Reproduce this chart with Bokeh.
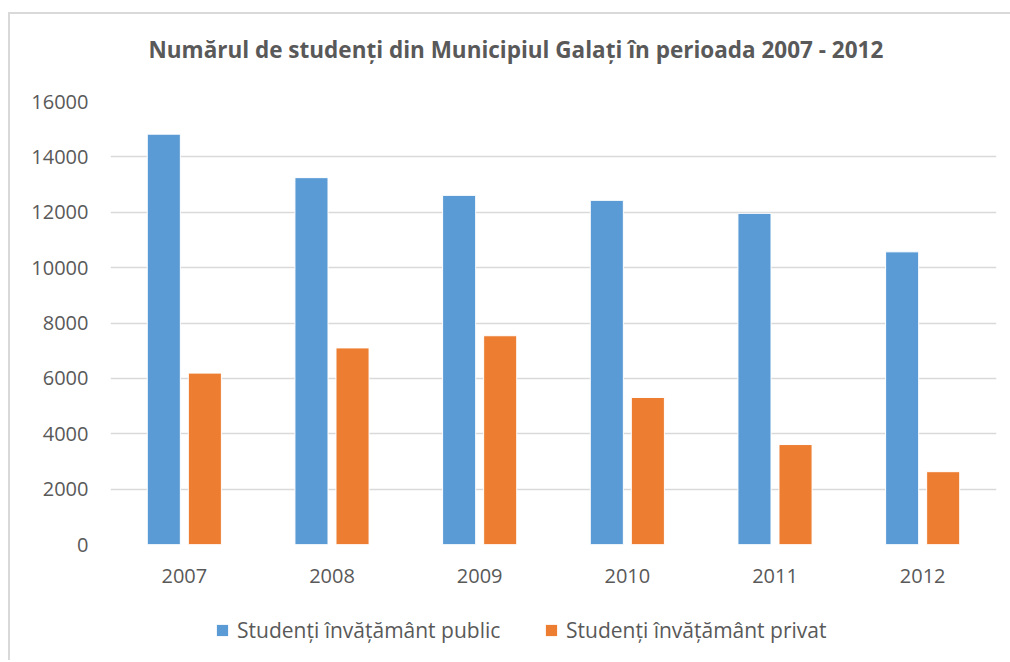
import numpy as np
from bokeh.plotting import figure
from bokeh.layouts import column
from bokeh.models import ColumnDataSource, FactorRange, Legend, LegendItem, Title
from bokeh.transform import dodge
from bokeh.embed import file_html
from bokeh.resources import INLINE

years = ["2007", "2008", "2009", "2010", "2011", "2012"]
public = [14820, 13250, 12610, 12430, 11960, 10570]
private = [6190, 7100, 7540, 5310, 3610, 2630]
y_ticks = [0, 2000, 4000, 6000, 8000, 10000, 12000, 14000, 16000]
title_text = "Numărul de studenți din Municipiul Galați în perioada 2007 - 2012"
label_public = "Studenți învățământ public"
label_private = "Studenți învățământ privat"

FONT = "Open Sans"
TXT = "#595959"
GRID = "#d9d9d9"
BLUE = "#5B9BD5"
ORANGE = "#ED7D31"

src = ColumnDataSource(dict(year=years, public=public, private=private))

p = figure(x_range=FactorRange(*years, range_padding=0), y_range=(0, 16000), title=None,
           frame_width=886, frame_height=443, output_backend="svg", toolbar_location=None,
           min_border_left=100, min_border_right=14, min_border_top=87, min_border_bottom=50)

p.vbar(x=dodge("year", -0.139, range=p.x_range), top="public", width=0.224, source=src,
       fill_color=BLUE, line_color="white", line_width=1)
p.vbar(x=dodge("year", 0.139, range=p.x_range), top="private", width=0.224, source=src,
       fill_color=ORANGE, line_color="white", line_width=1)

# spacer between frame and title, then the title itself
p.add_layout(Title(text=" ", text_font_size="1px", standoff=34), "above")
p.add_layout(Title(text=title_text, align="left", offset=38, standoff=0,
                   text_font=FONT, text_font_size="22.5px", text_font_style="bold",
                   text_color=TXT), "above")

p.outline_line_color = None
p.xgrid.grid_line_color = None
p.ygrid.grid_line_color = GRID
p.ygrid.grid_line_width = 1.5
p.yaxis.ticker = y_ticks
for ax in (p.xaxis[0], p.yaxis[0]):
    ax.axis_line_color = None
    ax.major_tick_line_color = None
    ax.minor_tick_line_color = None
    ax.major_label_text_font = FONT
    ax.major_label_text_font_size = "20px"
    ax.major_label_text_color = TXT
p.yaxis.major_label_standoff = 16
p.xaxis.major_label_standoff = 18

# legend strip below the chart (legend swatches only, nothing drawn in it)
lg = figure(width=1000, height=66, output_backend="svg", toolbar_location=None,
            x_axis_location=None, y_axis_location=None,
            min_border_left=0, min_border_right=0, min_border_top=0, min_border_bottom=0)
lg.outline_line_color = None
lg.grid.grid_line_color = None
nan_src = ColumnDataSource(dict(x=np.array([0.0]), top=np.array([np.nan])))
e1 = lg.vbar(x="x", top="top", width=1, source=nan_src, fill_color=BLUE, line_color=None)
e2 = lg.vbar(x="x", top="top", width=1, source=nan_src, fill_color=ORANGE, line_color=None)
legend = Legend(items=[LegendItem(label=label_public, renderers=[e1]),
                       LegendItem(label=label_private, renderers=[e2])],
                orientation="horizontal", location=(105, 16),
                label_text_font=FONT, label_text_font_size="21px", label_text_color=TXT,
                glyph_width=14, glyph_height=14, label_standoff=8, spacing=0, label_width=307,
                padding=0, margin=0, border_line_color=None, background_fill_alpha=0)
lg.add_layout(legend, "center")

layout = column(p, lg, spacing=0,
                styles={"margin-top": "12px", "margin-left": "8px",
                        "border-top": "2px solid #d9d9d9", "border-left": "2px solid #d9d9d9"})

open("out.html", "w").write(file_html(layout, INLINE))
